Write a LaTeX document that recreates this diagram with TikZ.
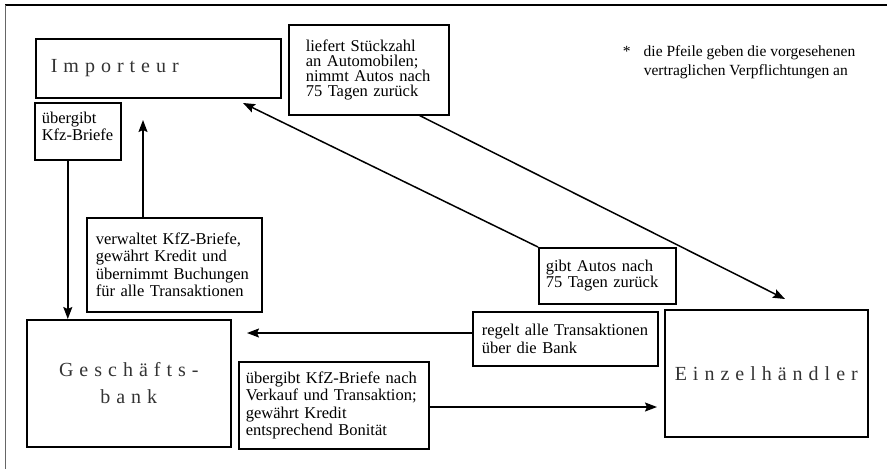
\documentclass[tikz,border=0pt]{standalone}
\usepackage{fontspec}
\setmainfont{Liberation Serif}
\newfontfamily\spacedfont[LetterSpace=30]{Liberation Serif}
\usetikzlibrary{arrows.meta}

\begin{document}
\begin{tikzpicture}[
        x=1pt, y=-1pt,
        >={Stealth[length=12pt,width=9pt,inset=2pt]},
        line width=1.5pt,
        box/.style={draw, line width=1.6pt, anchor=north west, inner sep=0pt,
                    align=left, font=\fontsize{16.5}{17.5}\selectfont},
        party/.style={box, font=\spacedfont\fontsize{20}{27}\selectfont,
                      text=black!80},
    ]
    \useasboundingbox (0,0) rectangle (887,469);

    % frame
    \draw[line width=1.3pt] (887,5) -- (5,5);
    \draw[line width=0.8pt, black!60] (5,5) -- (5,469);

    % parties
    \node[party, minimum width=245pt, minimum height=59pt, text width=215pt]
        (imp) at (35,38) {\raisebox{-2pt}{Importeur}};
    \node[party, align=center, minimum width=204pt, minimum height=127pt,
          text width=180pt] (bank) at (26,319) {Geschäfts-\\bank};
    \node[party, align=center, minimum width=203pt, minimum height=127pt,
          text width=190pt] (einz) at (664,309) {Einzelhändler};

    % obligations
    \node[box, minimum width=86pt, minimum height=57pt, text width=72pt,
          text depth=28pt] (kfz) at (34,102) {übergibt\\Kfz-Briefe};
    \node[box, minimum width=175pt, minimum height=94pt, text width=157pt]
        (verw) at (86,217)
        {verwaltet KfZ-Briefe,\\gewährt Kredit und\\übernimmt Buchungen\\für alle Transaktionen};
    \node[box, minimum width=160pt, minimum height=90pt, text width=126pt,
          font=\fontsize{16.5}{15}\selectfont] (lief) at (288,24)
        {liefert Stückzahl\\an Automobilen;\\nimmt Autos nach\\75 Tagen zurück};
    \node[box, minimum width=137pt, minimum height=56pt, text width=123pt,
          font=\fontsize{16.5}{16}\selectfont] (gibt) at (538,247)
        {gibt Autos nach\\75 Tagen zurück};
    \node[box, minimum width=185pt, minimum height=54pt, text width=167pt]
        (regelt) at (472,311) {regelt alle Transaktionen\\über die Bank};
    \node[box, minimum width=190pt, minimum height=87pt, text width=176pt]
        (verk) at (238,361)
        {übergibt KfZ-Briefe nach\\Verkauf und Transaktion;\\gewährt Kredit\\entsprechend Bonität};

    % note
    \node[anchor=north west, inner sep=0pt, align=left,
          font=\fontsize{15.5}{19}\selectfont] (note) at (622,45)
        {\makebox[21pt][l]{*}die Pfeile geben die vorgesehenen\\
         \makebox[21pt][l]{}vertraglichen Verpflichtungen an};

    % free arrow ends
    \coordinate (impIn) at (143,120);
    \coordinate (impIn2) at (243,103);
    \coordinate (einzIn) at (785,299);
    \coordinate (bankIn) at (247,333);
    \coordinate (einzIn2) at (657,407);

    % arrows
    \draw[->] ([xshift=-10pt]kfz.south) -- ([xshift=-10pt]kfz.south |- bank.north);
    \draw[->] (verw.north -| impIn) -- (impIn);
    \draw[->] ([xshift=51pt]lief.south) -- (einzIn);
    \draw[->] (gibt.north west) -- (impIn2);
    \draw[->] (regelt.west |- bankIn) -- (bankIn);
    \draw[->] (verk.east |- einzIn2) -- (einzIn2);
\end{tikzpicture}
\end{document}
